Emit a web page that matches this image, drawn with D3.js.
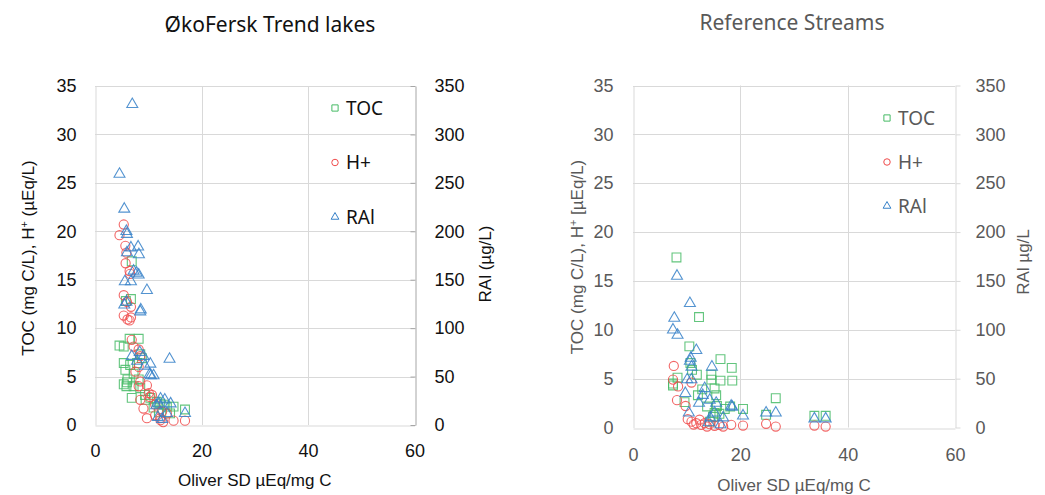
<!DOCTYPE html>
<html>
<head>
<meta charset="utf-8">
<script src="https://cdn.jsdelivr.net/npm/d3@7"></script>
<style>
  body { margin: 0; background: #fff; }
  svg { display: block; }
</style>
</head>
<body>
<div id="viz"></div>
<script>
// [Oliver SD (µEq/mg C), value] pairs

// ØkoFersk Trend lakes
const lakesToc = [[6.9,16.9],[6.75,13.0],[5.8,12.8],[6.5,8.9],[8.2,8.9],[4.6,8.2],[5.4,8.1],[8.5,7.3],[8.8,6.9],
  [5.4,6.4],[6.6,6.2],[7.9,6.4],[5.7,5.7],[7.25,5.3],[6.1,4.7],[8.2,4.7],[6.0,4.4],[5.4,4.2],[5.9,4.0],[7.25,4.0],
  [8.5,3.8],[6.9,2.8],[9.4,3.1],[10.4,2.8],[11.6,2.4],[12.25,2.2],[12.9,2.1],[14.75,1.9],[16.9,1.6],[14.1,1.2],
  [13.5,1.9],[11.0,1.8],[9.5,2.6],[12.0,1.3]];
const lakesH = [[5.4,20.7],[4.6,19.6],[5.7,18.5],[5.9,17.8],[5.75,16.7],[6.5,15.9],[6.6,15.6],[5.4,13.4],[6.0,12.7],
  [6.75,12.2],[5.4,11.3],[6.1,10.9],[6.75,11.1],[6.5,10.8],[6.9,8.8],[7.25,8.1],[8.2,7.8],[8.5,7.1],[8.2,6.0],
  [7.6,5.5],[8.5,4.5],[8.2,4.0],[9.75,4.1],[10.1,3.3],[10.7,3.1],[8.5,2.6],[9.1,1.7],[11.3,2.1],[12.6,1.4],
  [12.25,0.7],[13.5,1.2],[14.75,0.45],[16.9,0.45],[9.75,0.7],[11.3,1.0],[12.3,0.5],[12.8,0.3],[10.3,2.9]];
const lakesRal = [[7.0,331],[4.6,259],[5.5,223],[5.9,200],[6.0,197],[6.75,183],[8.1,184],[8.25,176],[6.0,178],
  [7.25,159],[8.2,155],[7.8,157],[5.6,148],[6.75,148],[9.75,139],[5.5,124],[5.9,127],[8.6,119],[8.5,117],
  [14.0,68],[8.4,75],[9.1,71],[10.4,63],[6.9,71],[7.9,66],[9.4,61],[10.25,52],[11.0,51],[10.5,51],[12.3,27],
  [13.1,26],[13.5,12],[16.9,12],[12.6,6],[11.5,20],[12.0,22],[11.8,8],[14.2,22]];

// Reference Streams
const streamsToc = [[8.1,17.4],[12.3,11.3],[10.5,8.3],[16.3,7.0],[18.4,6.1],[8.3,5.1],[7.45,4.5],[7.45,4.3],
  [11.0,5.9],[10.7,6.6],[11.9,5.4],[14.6,5.4],[14.6,4.9],[16.3,4.8],[18.5,4.8],[15.2,4.0],[15.5,3.3],[12.9,3.9],
  [12.1,3.3],[9.6,2.6],[13.8,2.15],[15.65,2.2],[17.1,1.9],[18.1,2.15],[20.5,1.9],[26.6,3.0],[24.8,1.3],[14.9,1.1],
  [14.3,0.6],[15.2,1.5],[16.1,1.4],[33.8,1.2],[35.9,1.2]];
const streamsH = [[7.6,6.3],[7.45,4.9],[8.4,4.2],[10.9,4.6],[8.2,2.8],[9.8,2.2],[10.2,0.85],[10.9,0.6],[11.8,0.44],
  [12.7,0.27],[13.35,0.44],[14.3,0.34],[15.2,0.17],[16.1,0.27],[18.3,0.27],[20.5,0.2],[24.8,0.38],[26.6,0.1],
  [33.8,0.2],[35.9,0.1],[11.3,0.3],[13.8,0.1],[16.8,0.1],[12.4,0.8]];
const streamsRal = [[8.2,155],[10.6,127],[7.7,112],[7.45,100],[8.3,94.5],[11.8,79],[10.75,71],[10.6,68],[10.9,62],
  [10.1,49],[10.9,49],[9.75,35],[13.35,40],[14.7,62],[13.0,33],[12.3,25],[14.3,28],[15.5,25],[18.3,22],[18.5,21],
  [10.4,15],[14.4,10],[15.2,15],[16.8,10],[20.5,12],[24.8,15],[26.6,15],[33.8,9],[35.9,9],[14.1,5],[16.3,3]];

const xTicks = [0, 20, 40, 60];
const leftTicks = [0, 5, 10, 15, 20, 25, 30, 35];
const rightTicks = [0, 50, 100, 150, 200, 250, 300, 350];
const legendNames = ['TOC', 'H+', 'RAl'];

const colors = ['#47bb66', '#f04b4b', '#3580c8'];
const shapes = [d3.symbolSquare, d3.symbolCircle, d3.symbolTriangle];
const sizes = [78, 66, 52];
const tickFont = '"Liberation Sans", Arial, sans-serif';
const titleFont = '"Noto Sans", "Open Sans", sans-serif';

const svg = d3.select('#viz')
  .append('svg')
  .attr('width', 1045)
  .attr('height', 495);

function drawPanel(p) {
  const g = svg.append('g');

  const x = d3.scaleLinear().domain([0, 60]).range([p.left, p.right]);
  const y = d3.scaleLinear().domain([0, 35]).range([p.bottom, p.top]);
  const y2 = d3.scaleLinear().domain([0, 350]).range([p.bottom, p.top]);

  // grid
  g.append('g').selectAll('line')
    .data(leftTicks.slice(1))
    .join('line')
    .attr('x1', p.left).attr('x2', p.right)
    .attr('y1', d => Math.round(y(d)) + 0.5).attr('y2', d => Math.round(y(d)) + 0.5)
    .attr('stroke', '#d9d9d9');
  g.append('g').selectAll('line')
    .data(xTicks.slice(1, -1))
    .join('line')
    .attr('x1', d => Math.round(x(d)) + 0.5).attr('x2', d => Math.round(x(d)) + 0.5)
    .attr('y1', p.top).attr('y2', p.bottom)
    .attr('stroke', '#d9d9d9');

  // axes
  const xAxis = g.append('g')
    .attr('transform', 'translate(0,' + (Math.round(p.bottom) + 0.5) + ')')
    .call(d3.axisBottom(x).tickValues(xTicks).tickSize(0).tickPadding(p.xPad));
  const yAxis = g.append('g')
    .attr('transform', 'translate(' + (Math.round(p.left) + 0.5) + ',0)')
    .call(d3.axisLeft(y).tickValues(leftTicks).tickSize(0).tickPadding(p.yPad));
  const y2Axis = g.append('g')
    .attr('transform', 'translate(' + (Math.round(p.right) + 0.5) + ',0)')
    .call(d3.axisRight(y2).tickValues(rightTicks).tickSizeInner(p.y2Tick).tickSizeOuter(0).tickPadding(p.y2Pad));

  [xAxis, yAxis, y2Axis].forEach(a => {
    a.select('.domain').attr('stroke', '#d9d9d9');
    a.selectAll('text')
      .attr('fill', p.textColor)
      .style('font-family', tickFont)
      .style('font-size', '18px');
  });
  y2Axis.select('.domain').attr('stroke', p.y2Color);
  y2Axis.selectAll('line').attr('stroke', p.y2Color);
  y2Axis.selectAll('text').attr('x', p.y2Pad);

  // points
  const series = [p.toc, p.h, p.ral];
  series.forEach((s, i) => {
    const ys = i === 2 ? y2 : y;
    g.append('g').selectAll('path')
      .data(s)
      .join('path')
      .attr('d', d3.symbol().type(shapes[i]).size(sizes[i]))
      .attr('transform', d => 'translate(' + x(d[0]) + ',' + ys(d[1]) + ')')
      .attr('fill', 'none')
      .attr('stroke', colors[i])
      .attr('stroke-opacity', 0.85)
      .attr('stroke-width', 1.1);
  });

  // legend
  const leg = g.append('g').selectAll('g')
    .data(legendNames)
    .join('g')
    .attr('transform', (d, i) => 'translate(' + p.legX + ',' + (p.legY + i * p.legStep) + ')');
  leg.append('path')
    .attr('d', (d, i) => d3.symbol().type(shapes[i]).size(sizes[i] * 0.5)())
    .attr('fill', 'none')
    .attr('stroke', (d, i) => colors[i])
    .attr('stroke-width', 1);
  leg.append('text')
    .attr('x', 11)
    .attr('dy', '0.36em')
    .attr('fill', p.textColor)
    .style('font-family', titleFont)
    .style('font-size', '19px')
    .text(d => d);

  // titles
  g.append('text')
    .attr('x', p.titleX).attr('y', p.titleY)
    .attr('text-anchor', 'middle')
    .attr('dy', '0.35em')
    .attr('fill', p.textColor)
    .style('font-family', titleFont)
    .style('font-size', '21px')
    .text(p.title);

  g.append('text')
    .attr('x', (p.left + p.right) / 2).attr('y', p.xTitleY)
    .attr('text-anchor', 'middle')
    .attr('dy', '0.35em')
    .attr('fill', p.textColor)
    .style('font-family', tickFont)
    .style('font-size', '17px')
    .text('Oliver SD µEq/mg C');

  const yt = g.append('text')
    .attr('transform', 'translate(' + p.yTitleX + ',' + p.yTitleY + ') rotate(-90)')
    .attr('text-anchor', 'middle')
    .attr('dy', '0.35em')
    .attr('fill', p.textColor)
    .style('font-family', tickFont)
    .style('font-size', '17px');
  yt.append('tspan').text('TOC (mg C/L), H');
  yt.append('tspan').attr('baseline-shift', 'super').style('font-size', '11px').text('+');
  yt.append('tspan').text(p.yTitleEnd);

  g.append('text')
    .attr('transform', 'translate(' + p.y2TitleX + ',' + p.y2TitleY + ') rotate(-90)')
    .attr('text-anchor', 'middle')
    .attr('dy', '0.35em')
    .attr('fill', p.textColor)
    .style('font-family', tickFont)
    .style('font-size', '17px')
    .text(p.y2Title);
}

drawPanel({
  left: 95, right: 414.5, top: 86, bottom: 425,
  toc: lakesToc, h: lakesH, ral: lakesRal,
  textColor: '#111', y2Color: '#a6a6a6', y2Tick: -5, y2Pad: 19,
  xPad: 19, yPad: 19,
  title: 'ØkoFersk Trend lakes', titleX: 270, titleY: 25,
  xTitleY: 480,
  yTitleX: 28, yTitleY: 258, yTitleEnd: ' (µEq/L)',
  y2Title: 'RAl (µg/L)', y2TitleX: 485, y2TitleY: 264,
  legX: 335, legY: 108, legStep: 54.5
});

drawPanel({
  left: 633, right: 955, top: 85.5, bottom: 427.5,
  toc: streamsToc, h: streamsH, ral: streamsRal,
  textColor: '#595959', y2Color: '#d9d9d9', y2Tick: 5, y2Pad: 20,
  xPad: 20, yPad: 20,
  title: 'Reference Streams', titleX: 792, titleY: 23,
  xTitleY: 485,
  yTitleX: 577, yTitleY: 257, yTitleEnd: ' [µEq/L)',
  y2Title: 'RAl µg/L', y2TitleX: 1023, y2TitleY: 262,
  legX: 887, legY: 118, legStep: 44
});
</script>
</body>
</html>
